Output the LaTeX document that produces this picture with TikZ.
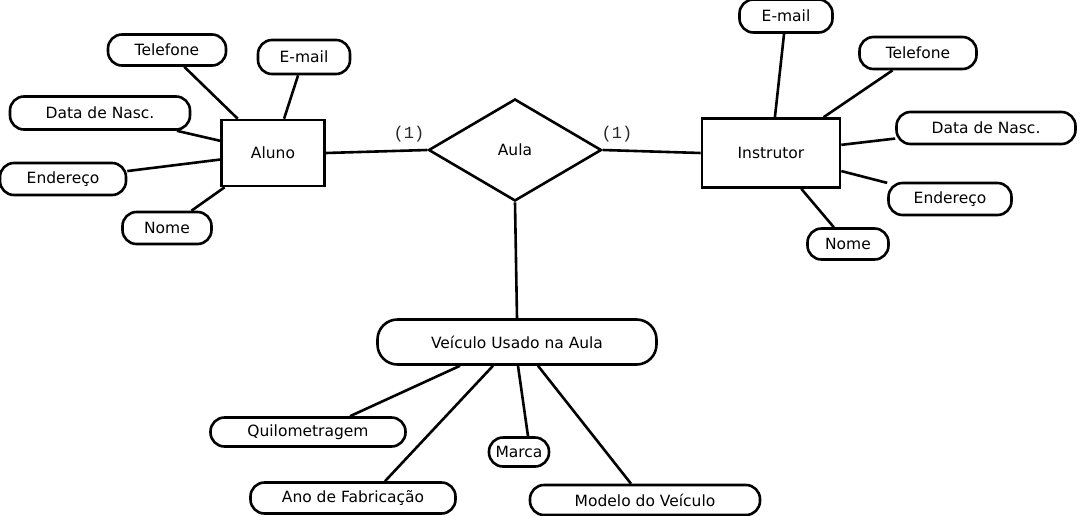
\documentclass[tikz,border=0pt]{standalone}
\usepackage{fontspec}
\setmainfont{DejaVu Sans}
\newfontfamily\cardfont{Liberation Mono}
\usetikzlibrary{shapes.geometric,calc}
\begin{document}
\begin{tikzpicture}[x=1pt,y=-1pt,
  every node/.style={font=\fontsize{15.5}{17}\selectfont, text=black!85},
  ln/.style={line width=2.6pt, black},
  ent/.style={draw, ln, inner sep=0pt},
  attr/.style={draw, ln, rounded corners=14pt, minimum height=31pt, inner sep=0pt},
  rel/.style={draw, ln, diamond, inner sep=0pt, minimum width=173pt, minimum height=102pt},
  card/.style={font=\cardfont\fontsize{17}{19}\selectfont}
]
\useasboundingbox (0,0) rectangle (1080,515);
% entities and relationship
\node[ent, minimum width=103pt, minimum height=66pt] (aluno) at (273,153) {Aluno};
\node[ent, minimum width=138pt, minimum height=69pt] (instr) at (771,153) {Instrutor};
\node[rel] (aula) at (515,150) {Aula};
\node[card] (c1) at (409,134) {(1)};
\node[card] (c2) at (617,134) {(1)};
% left attributes
\node[attr, minimum width=118pt] (atel) at (167,50) {Telefone};
\node[attr, minimum width=92pt, minimum height=34pt] (aemail) at (304,57) {E-mail};
\node[attr, minimum width=180pt, minimum height=33pt] (adata) at (100,113) {Data de Nasc.};
\node[attr, minimum width=126pt, minimum height=32pt] (aend) at (63,179) {Endereço};
\node[attr, minimum width=89pt, minimum height=32pt] (anome) at (167,228) {Nome};
% right attributes
\node[attr, minimum width=93pt, minimum height=33pt] (iemail) at (786,16) {E-mail};
\node[attr, minimum width=117pt, minimum height=32pt] (itel) at (918,53) {Telefone};
\node[attr, minimum width=179pt, minimum height=32pt] (idata) at (986,128) {Data de Nasc.};
\node[attr, minimum width=123pt, minimum height=32pt] (iend) at (950,199) {Endereço};
\node[attr, minimum width=81pt, minimum height=31pt] (inome) at (848,244) {Nome};
% vehicle
\node[attr, minimum width=279pt, minimum height=45pt, rounded corners=20pt] (veic) at (517,342) {Veículo Usado na Aula};
\node[attr, minimum width=195pt, minimum height=29pt] (quilo) at (308,432) {Quilometragem};
\node[attr, minimum width=60pt, minimum height=29pt] (marca) at (519,452) {Marca};
\node[attr, minimum width=205pt, minimum height=31pt] (ano) at (353,498) {Ano de Fabricação};
\node[attr, minimum width=230pt, minimum height=30pt] (modelo) at (645,500) {Modelo do Veículo};
% connectors
\draw[ln] (aluno.east) -- (aula.west);
\draw[ln] (aula.east) -- (instr.west);
\draw[ln] (aula.south) -- (veic.north);
\foreach \a in {atel,aemail,adata,aend,anome} \draw[ln] (\a) -- (aluno);
\foreach \a in {iemail,itel,idata,iend,inome} \draw[ln] (\a) -- (instr);
\coordinate (v1) at ([xshift=-57pt]veic.south);
\coordinate (v2) at ([xshift=-24pt]veic.south);
\coordinate (v3) at ([xshift=1pt]veic.south);
\coordinate (v4) at ([xshift=21pt]veic.south);
\draw[ln] (v1) -- ([xshift=42pt]quilo.north);
\draw[ln] (v2) -- ([xshift=32pt]ano.north);
\draw[ln] (v3) -- ([xshift=9pt]marca.north);
\draw[ln] (v4) -- ([xshift=-14pt]modelo.north);
\end{tikzpicture}
\end{document}
